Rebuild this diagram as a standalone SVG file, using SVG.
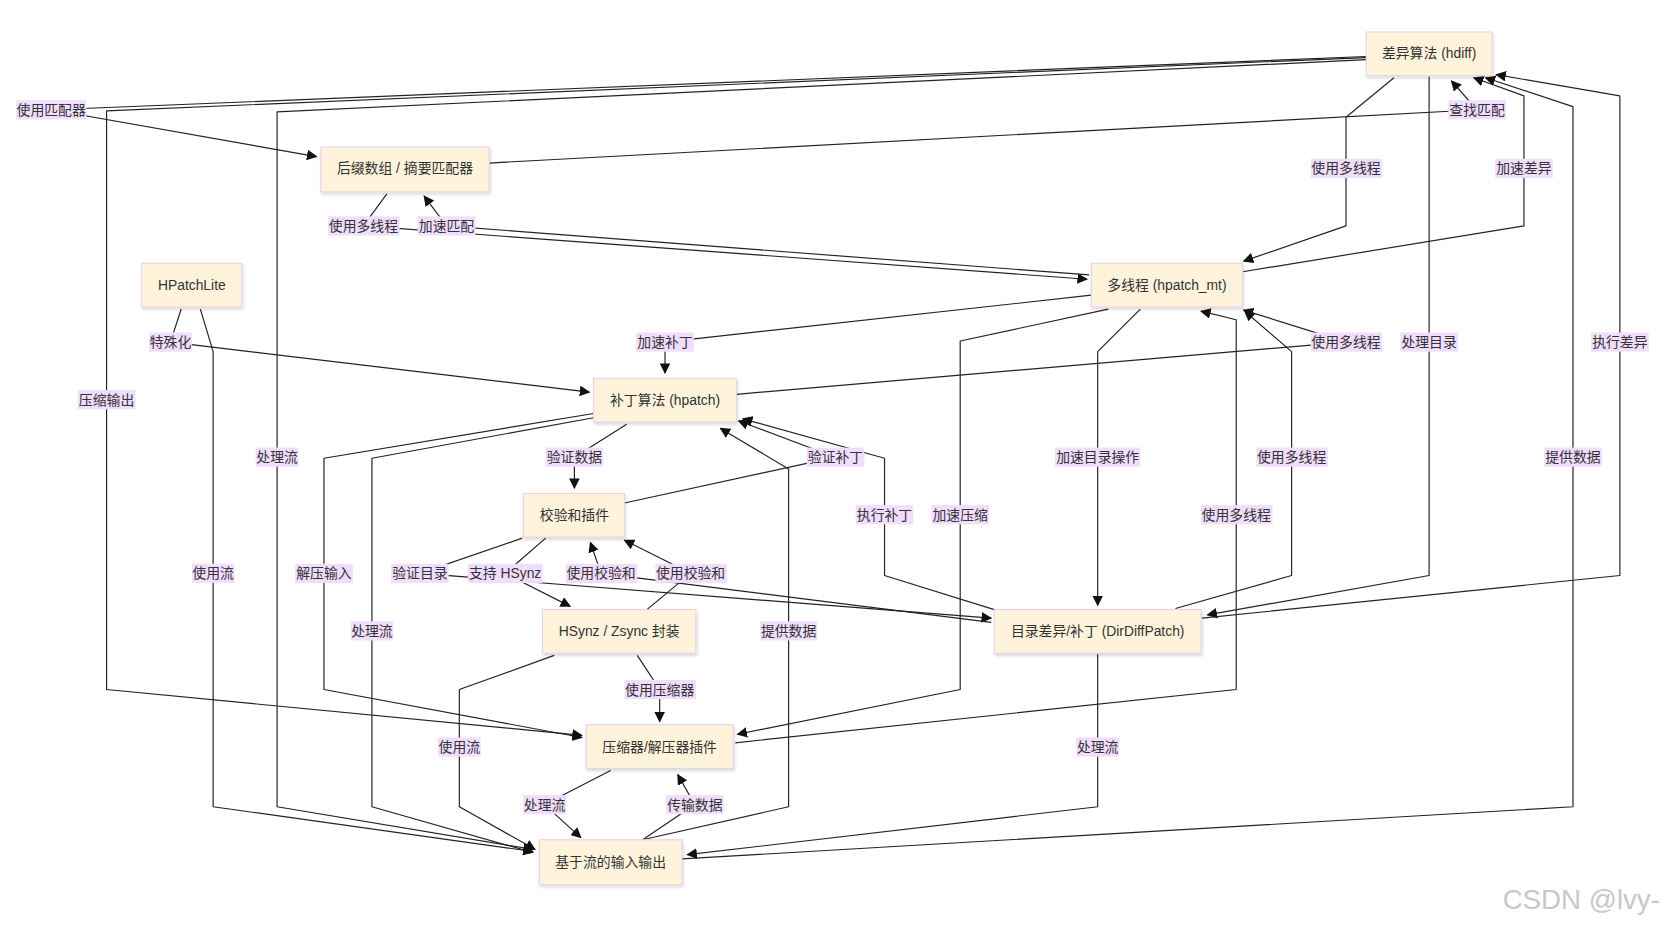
<svg xmlns="http://www.w3.org/2000/svg" width="1671" height="928" viewBox="0 0 1671 928">
<defs>
<marker id="a" viewBox="0 0 10 10" refX="9" refY="5" markerWidth="10" markerHeight="10" markerUnits="userSpaceOnUse" orient="auto"><path d="M0,0L10,5L0,10z" fill="#111"/></marker>
<filter id="sh" x="-10%" y="-10%" width="130%" height="140%"><feDropShadow dx="1" dy="2" stdDeviation="1.5" flood-color="#000" flood-opacity="0.15"/></filter>
</defs>
<style>
.n rect{fill:#fff3dc;stroke:#e6d2ea;stroke-width:1;filter:url(#sh)}
.n text{font-family:"Liberation Sans","Noto Sans CJK SC",sans-serif;font-size:13px;fill:#333;text-anchor:middle;dominant-baseline:central}
.e path{fill:none;stroke:#222;stroke-width:1.1;stroke-linejoin:round;marker-end:url(#a)}
.l rect{fill:#f1ddff}
.l text{font-family:"Liberation Sans","Noto Sans CJK SC",sans-serif;font-size:13px;fill:#333;text-anchor:middle;dominant-baseline:central}
</style>
<rect width="1671" height="928" fill="#fff"/>
<g transform="scale(1.0657)">
<g id="connectors" class="e">
<path d="M1282,53 L48,103 L297,147"/>
<path d="M1282,54 L100,104 L100,647 L546,690"/>
<path d="M1282,56 L260,105 L260,757 L500,797"/>
<path d="M459,153 L1386,103 L1362,76"/>
<path d="M363,182 L341,212 L1020,262"/>
<path d="M1022,258 L419,212 L398,184"/>
<path d="M1308,73 L1263,110 L1263,212 L1167,245"/>
<path d="M1166,255 L1430,212 L1430,90 L1383,73"/>
<path d="M1341,72 L1341,540 L1133,577"/>
<path d="M1128,580 L1520,540 L1520,90 L1404,70"/>
<path d="M640,806 L1476,757 L1476,100 L1394,73"/>
<path d="M170,290 L160,321 L553,368"/>
<path d="M188,290 L200,330 L200,757 L500,799"/>
<path d="M1024,277 L624,321 L624,350"/>
<path d="M691,370 L1263,321 L1167,291"/>
<path d="M588,398 L539,429 L539,458"/>
<path d="M557,388 L304,430 L304,647 L546,692"/>
<path d="M557,392 L349,430 L349,757 L500,800"/>
<path d="M586,472 L784,429 L693,395"/>
<path d="M933,572 L830,540 L830,430 L697,393"/>
<path d="M603,788 L740,757 L740,440 L676,402"/>
<path d="M490,505 L394,538 L930,580"/>
<path d="M512,505 L474,538 L535,569"/>
<path d="M930,584 L564,538 L554,509"/>
<path d="M607,572 L648,538 L586,507"/>
<path d="M598,615 L619,647 L619,677"/>
<path d="M520,615 L431,647 L431,757 L502,797"/>
<path d="M1040,290 L901,320 L901,647 L692,689"/>
<path d="M1070,290 L1030,330 L1030,568"/>
<path d="M1103,571 L1212,540 L1212,330 L1168,292"/>
<path d="M690,697 L1160,647 L1160,300 L1127,292"/>
<path d="M1030,614 L1030,757 L645,802"/>
<path d="M573,723 L511,755 L545,786"/>
<path d="M603,788 L652,755 L636,727"/>
</g>
<g id="labels" class="l">
<g><rect x="15" y="94" width="66" height="18"/><text x="48" y="103">使用匹配器</text></g>
<g><rect x="73" y="366" width="54" height="18"/><text x="100" y="375">压缩输出</text></g>
<g><rect x="240" y="420" width="40" height="18"/><text x="260" y="429">处理流</text></g>
<g><rect x="1359" y="94" width="54" height="18"/><text x="1386" y="103">查找匹配</text></g>
<g><rect x="308" y="203" width="67" height="18"/><text x="341" y="212">使用多线程</text></g>
<g><rect x="392" y="203" width="54" height="18"/><text x="419" y="212">加速匹配</text></g>
<g><rect x="1230" y="149" width="67" height="18"/><text x="1263" y="158">使用多线程</text></g>
<g><rect x="1403" y="149" width="54" height="18"/><text x="1430" y="158">加速差异</text></g>
<g><rect x="1314" y="312" width="54" height="18"/><text x="1341" y="321">处理目录</text></g>
<g><rect x="1493" y="312" width="54" height="18"/><text x="1520" y="321">执行差异</text></g>
<g><rect x="1449" y="420" width="54" height="18"/><text x="1476" y="429">提供数据</text></g>
<g><rect x="140" y="312" width="40" height="18"/><text x="160" y="321">特殊化</text></g>
<g><rect x="180" y="529" width="40" height="18"/><text x="200" y="538">使用流</text></g>
<g><rect x="597" y="312" width="54" height="18"/><text x="624" y="321">加速补丁</text></g>
<g><rect x="1230" y="312" width="67" height="18"/><text x="1263" y="321">使用多线程</text></g>
<g><rect x="512" y="420" width="54" height="18"/><text x="539" y="429">验证数据</text></g>
<g><rect x="277" y="529" width="54" height="18"/><text x="304" y="538">解压输入</text></g>
<g><rect x="329" y="583" width="40" height="18"/><text x="349" y="592">处理流</text></g>
<g><rect x="757" y="420" width="54" height="18"/><text x="784" y="429">验证补丁</text></g>
<g><rect x="803" y="474" width="54" height="18"/><text x="830" y="483">执行补丁</text></g>
<g><rect x="713" y="583" width="54" height="18"/><text x="740" y="592">提供数据</text></g>
<g><rect x="367" y="529" width="54" height="18"/><text x="394" y="538">验证目录</text></g>
<g><rect x="439" y="529" width="70" height="18"/><text x="474" y="538">支持 HSynz</text></g>
<g><rect x="531" y="529" width="67" height="18"/><text x="564" y="538">使用校验和</text></g>
<g><rect x="615" y="529" width="67" height="18"/><text x="648" y="538">使用校验和</text></g>
<g><rect x="586" y="638" width="67" height="18"/><text x="619" y="647">使用压缩器</text></g>
<g><rect x="411" y="692" width="40" height="18"/><text x="431" y="701">使用流</text></g>
<g><rect x="874" y="474" width="54" height="18"/><text x="901" y="483">加速压缩</text></g>
<g><rect x="990" y="420" width="80" height="18"/><text x="1030" y="429">加速目录操作</text></g>
<g><rect x="1179" y="420" width="67" height="18"/><text x="1212" y="429">使用多线程</text></g>
<g><rect x="1127" y="474" width="67" height="18"/><text x="1160" y="483">使用多线程</text></g>
<g><rect x="1010" y="692" width="40" height="18"/><text x="1030" y="701">处理流</text></g>
<g><rect x="491" y="746" width="40" height="18"/><text x="511" y="755">处理流</text></g>
<g><rect x="625" y="746" width="54" height="18"/><text x="652" y="755">传输数据</text></g>
</g>
<g id="hdiff" class="n"><rect x="1282" y="30" width="118" height="41"/><text x="1341" y="50">差异算法 (hdiff)</text></g>
<g id="suffix" class="n"><rect x="301" y="138" width="158" height="42"/><text x="380" y="158">后缀数组 / 摘要匹配器</text></g>
<g id="hpatchlite" class="n"><rect x="133" y="247" width="94" height="41"/><text x="180" y="267">HPatchLite</text></g>
<g id="hpatch_mt" class="n"><rect x="1024" y="247" width="142" height="41"/><text x="1095" y="267">多线程 (hpatch_mt)</text></g>
<g id="hpatch" class="n"><rect x="557" y="355" width="134" height="41"/><text x="624" y="375">补丁算法 (hpatch)</text></g>
<g id="checksum" class="n"><rect x="491" y="463" width="95" height="41"/><text x="539" y="483">校验和插件</text></g>
<g id="hsynz" class="n"><rect x="509" y="572" width="144" height="41"/><text x="581" y="592">HSynz / Zsync 封装</text></g>
<g id="dirdiff" class="n"><rect x="933" y="572" width="194" height="41"/><text x="1030" y="592">目录差异/补丁 (DirDiffPatch)</text></g>
<g id="compressor" class="n"><rect x="550" y="680" width="138" height="41"/><text x="619" y="701">压缩器/解压器插件</text></g>
<g id="stream" class="n"><rect x="506" y="788" width="134" height="42"/><text x="573" y="809">基于流的输入输出</text></g>
<text x="1410" y="853" font-family="Liberation Sans, sans-serif" font-size="26" fill="#c8c8c8">CSDN @lvy-</text>
</g>
</svg>
